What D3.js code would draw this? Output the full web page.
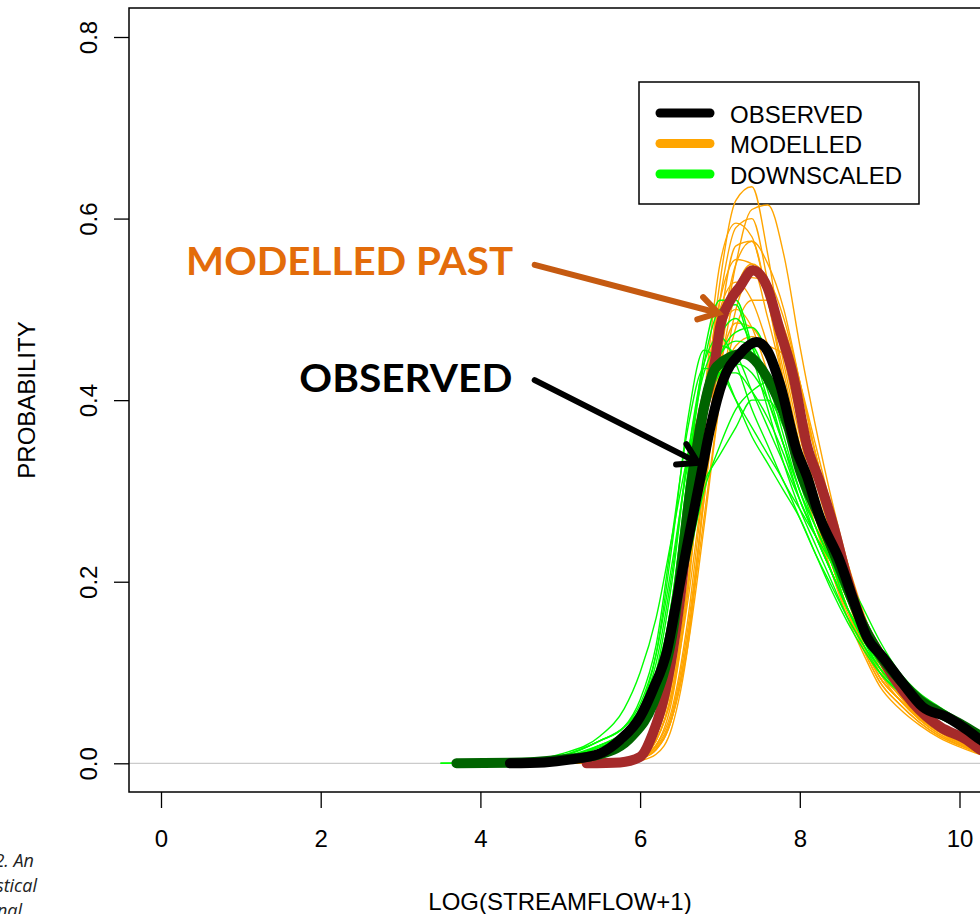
<!DOCTYPE html>
<html>
<head>
<meta charset="utf-8">
<script src="https://cdn.jsdelivr.net/npm/d3@7"></script>
<style>
body { margin: 0; background: #fff; }
svg { display: block; }
</style>
</head>
<body>
<script>
var xTicks = [0, 2, 4, 6, 8, 10];
var yTicks = [0, 0.2, 0.4, 0.6, 0.8];
var legendLabels = ["OBSERVED", "MODELLED", "DOWNSCALED"];
var legendColors = ["#000000", "#FFA500", "#00FF00"];

// observed density (black)
var obsX = [4.37, 4.8, 5.12, 5.5, 5.75, 6.0, 6.16, 6.34, 6.46, 6.6, 6.75, 6.88, 7.04, 7.25, 7.46, 7.59, 7.75, 7.96, 8.09, 8.25, 8.5, 8.67, 8.84, 9.04, 9.29, 9.54, 9.84, 10.09, 10.26, 10.5];
var obsY = [0, 0.001, 0.004, 0.011, 0.026, 0.051, 0.081, 0.125, 0.18, 0.245, 0.312, 0.37, 0.422, 0.451, 0.464, 0.455, 0.418, 0.345, 0.316, 0.271, 0.223, 0.18, 0.139, 0.117, 0.088, 0.062, 0.051, 0.037, 0.026, 0.014];

// modelled past density (brown)
var modPastX = [5.33, 5.75, 6.0, 6.16, 6.29, 6.41, 6.5, 6.6, 6.75, 6.94, 7.0, 7.13, 7.25, 7.41, 7.59, 7.75, 7.92, 8.09, 8.25, 8.42, 8.59, 8.75, 8.97, 9.17, 9.42, 9.76, 10.09, 10.26, 10.5];
var modPastY = [0, 0.001, 0.007, 0.033, 0.069, 0.124, 0.18, 0.26, 0.37, 0.444, 0.48, 0.51, 0.525, 0.543, 0.525, 0.477, 0.426, 0.35, 0.31, 0.262, 0.205, 0.161, 0.125, 0.095, 0.066, 0.04, 0.026, 0.015, 0.007];

// downscaled past density (dark green)
var downPastX = [3.7, 4.37, 5.0, 5.5, 5.9, 6.16, 6.4, 6.66, 6.96, 7.29, 7.59, 7.84, 8.0, 8.25, 8.5, 8.75, 9.0, 9.25, 9.5, 9.75, 10.0, 10.25, 10.5];
var downPastY = [0, 0.0005, 0.004, 0.01, 0.03, 0.065, 0.14, 0.32, 0.437, 0.451, 0.425, 0.375, 0.323, 0.27, 0.215, 0.16, 0.12, 0.092, 0.07, 0.056, 0.044, 0.031, 0.018];

// ensemble runs share this grid
var runX = [3.5, 4.0, 4.5, 5.0, 5.5, 5.8, 6.0, 6.2, 6.4, 6.6, 6.8, 7.0, 7.2, 7.4, 7.6, 7.8, 8.0, 8.2, 8.4, 8.6, 8.8, 9.0, 9.25, 9.5, 9.75, 10.0, 10.25, 10.5];

var modelledRuns = [
    [null, null, null, 0, .001, .003, .008, .025, .08, .20, .38, .53, .62, .635, .56, .45, .37, .30, .24, .19, .14, .10, .075, .05, .035, .025, .015, .008],
    [null, null, null, 0, .001, .002, .005, .015, .05, .14, .29, .44, .55, .61, .615, .56, .46, .37, .29, .22, .16, .115, .08, .055, .038, .024, .013, .006],
    [null, null, null, 0, .001, .003, .007, .02, .07, .19, .36, .51, .59, .60, .53, .44, .36, .29, .23, .18, .13, .095, .07, .048, .032, .022, .013, .007],
    [null, null, null, 0, .001, .003, .008, .03, .09, .22, .40, .55, .595, .58, .51, .43, .35, .28, .22, .17, .125, .09, .065, .045, .03, .02, .012, .006],
    [null, null, null, 0, .001, .002, .006, .02, .06, .16, .31, .46, .55, .575, .55, .50, .42, .34, .27, .21, .155, .11, .078, .052, .036, .024, .014, .007],
    [null, null, null, 0, .001, .003, .009, .03, .10, .24, .40, .51, .555, .55, .49, .42, .35, .28, .22, .17, .13, .095, .07, .05, .035, .022, .013, .006],
    [null, null, null, 0, 0, .002, .006, .018, .055, .15, .29, .43, .52, .55, .53, .47, .39, .31, .25, .19, .14, .10, .07, .048, .032, .02, .011, .005],
    [null, null, null, 0, .001, .004, .01, .035, .11, .25, .40, .50, .53, .51, .46, .40, .33, .27, .22, .17, .13, .095, .07, .05, .036, .025, .015, .008],
    [null, null, null, 0, .001, .002, .005, .015, .05, .14, .27, .40, .48, .51, .51, .48, .42, .35, .28, .22, .165, .12, .085, .058, .04, .027, .016, .009],
    [null, null, null, 0, .001, .003, .008, .025, .08, .20, .34, .44, .485, .48, .45, .40, .34, .28, .22, .17, .13, .095, .07, .05, .035, .024, .015, .008],
    [null, null, null, 0, 0, .001, .003, .01, .04, .13, .30, .48, .57, .575, .51, .42, .34, .27, .21, .16, .12, .085, .06, .042, .028, .018, .01, .005],
    [null, null, null, 0, .001, .003, .008, .025, .075, .18, .31, .41, .46, .47, .46, .45, .40, .34, .27, .21, .155, .115, .082, .058, .04, .027, .017, .01],
    [null, null, null, 0, .001, .003, .009, .03, .09, .22, .37, .47, .50, .48, .43, .38, .32, .26, .21, .165, .125, .09, .065, .045, .03, .02, .012, .006],
    [null, null, null, 0, .001, .002, .005, .016, .05, .13, .26, .40, .50, .535, .53, .49, .42, .34, .27, .20, .15, .105, .074, .05, .034, .022, .013, .007]
];

var downscaledRuns = [
    [null, 0, .001, .004, .012, .025, .04, .08, .17, .32, .45, .51, .51, .46, .40, .35, .30, .26, .22, .17, .135, .11, .085, .065, .052, .04, .028, .016],
    [null, 0, .001, .005, .015, .03, .05, .09, .18, .32, .44, .50, .505, .45, .39, .33, .28, .24, .20, .16, .13, .105, .08, .062, .05, .039, .027, .016],
    [0, .001, .002, .006, .02, .035, .06, .12, .24, .38, .455, .44, .40, .36, .33, .30, .27, .23, .19, .155, .125, .10, .08, .065, .054, .043, .03, .017],
    [null, 0, .001, .004, .018, .03, .045, .08, .16, .29, .40, .45, .475, .48, .45, .38, .31, .26, .22, .18, .145, .115, .088, .068, .055, .043, .03, .017],
    [null, 0, .001, .005, .02, .035, .06, .11, .21, .34, .43, .46, .45, .41, .37, .33, .29, .25, .21, .17, .14, .11, .085, .066, .053, .041, .029, .017],
    [null, 0, .001, .006, .02, .03, .045, .07, .13, .22, .30, .35, .39, .41, .42, .39, .34, .29, .24, .195, .16, .125, .095, .072, .058, .046, .032, .019],
    [null, 0, .002, .007, .025, .04, .065, .12, .22, .33, .40, .43, .44, .43, .40, .35, .30, .25, .21, .17, .135, .105, .08, .062, .05, .039, .027, .015],
    [null, 0, .002, .01, .03, .06, .10, .16, .25, .34, .40, .43, .43, .41, .38, .34, .29, .25, .21, .17, .14, .11, .085, .066, .053, .042, .03, .017],
    [null, 0, .001, .004, .015, .03, .05, .10, .20, .34, .44, .47, .44, .39, .35, .31, .28, .25, .22, .18, .145, .115, .088, .068, .055, .044, .031, .018],
    [null, null, 0, .003, .015, .025, .04, .07, .14, .27, .38, .43, .445, .45, .43, .38, .32, .27, .225, .185, .15, .12, .09, .068, .055, .044, .031, .018],
    [null, 0, .001, .004, .013, .025, .045, .085, .17, .30, .41, .47, .49, .46, .41, .35, .29, .25, .21, .17, .135, .105, .08, .062, .05, .039, .027, .015],
    [null, 0, .002, .008, .025, .04, .06, .10, .17, .26, .31, .34, .37, .40, .40, .37, .33, .29, .25, .205, .17, .135, .10, .077, .062, .048, .034, .02],
    [0, .001, .003, .008, .025, .04, .07, .13, .25, .37, .435, .43, .40, .37, .34, .31, .27, .23, .195, .16, .13, .10, .078, .061, .05, .039, .027, .016],
    [null, 0, .001, .005, .018, .03, .05, .09, .18, .31, .41, .45, .465, .46, .42, .36, .30, .26, .22, .18, .145, .115, .085, .065, .052, .041, .029, .017]
];

// annotation text and arrows, in data units
var noteLabels = ["MODELLED PAST", "OBSERVED"];
var noteColors = ["#E36C0A", "#000000"];
var noteArrowColors = ["#C55A11", "#000000"];
var noteTextX = [4.41, 4.40];
var noteTextY = [0.538, 0.409];
var noteWidths = [327, 213];
var noteFrom = [[4.68, 0.549], [4.68, 0.422]];
var noteTo = [[6.98, 0.496], [6.725, 0.331]];

var sideText = ["2. An", "statistical", "regional"];

var W = 980, H = 914;
var font = "'Liberation Sans', Arial, sans-serif";

var svg = d3.select("body").append("svg")
    .attr("width", W)
    .attr("height", H);

var x = d3.scaleLinear().domain([0, 10]).range([161, 959.5]);
var y = d3.scaleLinear().domain([0, 0.8]).range([763.3, 37]);

var box = {left: 129, top: 8, right: 991, bottom: 792};

drawChart();

function pairs(xs, ys) {
    var out = [];
    for (var i = 0; i < xs.length; i++) {
        out.push({x: xs[i], y: ys[i]});
    }
    return out;
}

function drawLegend() {
    var lg = svg.append("g");
    lg.append("rect")
        .attr("x", 639).attr("y", 82)
        .attr("width", 280).attr("height", 122)
        .attr("fill", "#fff")
        .attr("stroke", "#000")
        .attr("stroke-width", 1.5);
    var rows = lg.selectAll("g.row")
        .data(legendLabels)
        .enter().append("g")
        .attr("class", "row")
        .attr("transform", function (d, i) { return "translate(0," + (113 + i * 30.5) + ")"; });
    rows.append("line")
        .attr("x1", 660).attr("x2", 710)
        .attr("stroke", function (d, i) { return legendColors[i]; })
        .attr("stroke-width", 9)
        .attr("stroke-linecap", "round");
    rows.append("text")
        .attr("x", 730).attr("y", 9.5)
        .attr("font-family", font)
        .attr("font-size", 24)
        .text(function (d) { return d; });
}

function drawChart() {
    var line = d3.line()
        .defined(function (d) { return d.y !== null; })
        .x(function (d) { return x(d.x); })
        .y(function (d) { return y(d.y); })
        .curve(d3.curveMonotoneX);

    // zero line
    svg.append("line")
        .attr("x1", box.left).attr("x2", box.right)
        .attr("y1", y(0)).attr("y2", y(0))
        .attr("stroke", "#BEBEBE")
        .attr("stroke-width", 1);

    // legend sits under the curves (peaks cross its lower edge)
    drawLegend();

    svg.append("g").selectAll("path")
        .data(modelledRuns)
        .enter().append("path")
        .attr("d", function (d) { return line(pairs(runX, d)); })
        .attr("fill", "none")
        .attr("stroke", "#FFA500")
        .attr("stroke-width", 1.4);

    svg.append("g").selectAll("path")
        .data(downscaledRuns)
        .enter().append("path")
        .attr("d", function (d) { return line(pairs(runX, d)); })
        .attr("fill", "none")
        .attr("stroke", "#00FF00")
        .attr("stroke-width", 1.4);

    var thick = [
        {xs: modPastX, ys: modPastY, color: "#A52A2A"},
        {xs: downPastX, ys: downPastY, color: "#006400"},
        {xs: obsX, ys: obsY, color: "#000000"}
    ];
    svg.append("g").selectAll("path")
        .data(thick)
        .enter().append("path")
        .attr("d", function (d) { return line(pairs(d.xs, d.ys)); })
        .attr("fill", "none")
        .attr("stroke", function (d) { return d.color; })
        .attr("stroke-width", 10)
        .attr("stroke-linecap", "round")
        .attr("stroke-linejoin", "round");

    // plot frame
    svg.append("rect")
        .attr("x", box.left).attr("y", box.top)
        .attr("width", box.right - box.left)
        .attr("height", box.bottom - box.top)
        .attr("fill", "none")
        .attr("stroke", "#000")
        .attr("stroke-width", 1.5);

    // x axis
    var xAxis = svg.append("g")
        .attr("transform", "translate(0," + box.bottom + ")")
        .call(d3.axisBottom(x).tickValues(xTicks).tickSize(16).tickPadding(22).tickSizeOuter(0)
            .tickFormat(d3.format("d")));
    xAxis.select(".domain").remove();
    xAxis.selectAll("line").attr("stroke", "#000").attr("stroke-width", 1.3);
    xAxis.selectAll("text")
        .attr("font-family", font)
        .attr("font-size", 24)
        .attr("fill", "#000");

    // y axis
    var yAxis = svg.append("g")
        .attr("transform", "translate(" + box.left + ",0)")
        .call(d3.axisLeft(y).tickValues(yTicks).tickSize(15).tickSizeOuter(0)
            .tickFormat(d3.format(".1f")));
    yAxis.select(".domain").remove();
    yAxis.selectAll("line").attr("stroke", "#000").attr("stroke-width", 1.3);
    yAxis.selectAll("text")
        .attr("x", null).attr("dy", null)
        .attr("transform", "translate(-32,0) rotate(-90)")
        .attr("text-anchor", "middle")
        .attr("font-family", font)
        .attr("font-size", 24)
        .attr("fill", "#000");

    svg.append("text")
        .attr("x", (box.left + box.right) / 2)
        .attr("y", 910)
        .attr("text-anchor", "middle")
        .attr("font-family", font)
        .attr("font-size", 24)
        .text("LOG(STREAMFLOW+1)");

    svg.append("text")
        .attr("transform", "translate(35," + ((box.top + box.bottom) / 2) + ") rotate(-90)")
        .attr("text-anchor", "middle")
        .attr("font-family", font)
        .attr("font-size", 24)
        .text("PROBABILITY");

    // annotations
    for (var i = 0; i < noteLabels.length; i++) {
        var x0 = x(noteFrom[i][0]), y0 = y(noteFrom[i][1]);
        var x1 = x(noteTo[i][0]), y1 = y(noteTo[i][1]);
        var ang = Math.atan2(y1 - y0, x1 - x0);
        var hl = 22, ha = 0.55;
        svg.append("line")
            .attr("x1", x0).attr("y1", y0)
            .attr("x2", x1 - 3 * Math.cos(ang)).attr("y2", y1 - 3 * Math.sin(ang))
            .attr("stroke", noteArrowColors[i])
            .attr("stroke-width", 6)
            .attr("stroke-linecap", "round");
        svg.append("path")
            .attr("d", d3.line()([
                [x1 - hl * Math.cos(ang - ha), y1 - hl * Math.sin(ang - ha)],
                [x1, y1],
                [x1 - hl * Math.cos(ang + ha), y1 - hl * Math.sin(ang + ha)]
            ]))
            .attr("fill", "none")
            .attr("stroke", noteArrowColors[i])
            .attr("stroke-width", 6)
            .attr("stroke-linecap", "round")
            .attr("stroke-linejoin", "miter");
        svg.append("text")
            .attr("x", x(noteTextX[i]) - noteWidths[i])
            .attr("y", y(noteTextY[i]))
            .attr("textLength", noteWidths[i])
            .attr("lengthAdjust", "spacingAndGlyphs")
            .attr("font-family", "Lato, 'Open Sans', sans-serif")
            .attr("font-weight", 700)
            .attr("font-size", 39)
            .attr("fill", noteColors[i])
            .text(noteLabels[i]);
    }

    // page text cut off at the lower left edge
    svg.append("g").selectAll("text")
        .data(sideText)
        .enter().append("text")
        .attr("x", function (d, i) { return [34, 37, 22][i]; })
        .attr("y", function (d, i) { return 867 + i * 25; })
        .attr("text-anchor", "end")
        .attr("font-family", "'Open Sans', sans-serif")
        .attr("font-style", "italic")
        .attr("font-size", 18)
        .attr("fill", "#222")
        .text(function (d) { return d; });
}
</script>
</body>
</html>
